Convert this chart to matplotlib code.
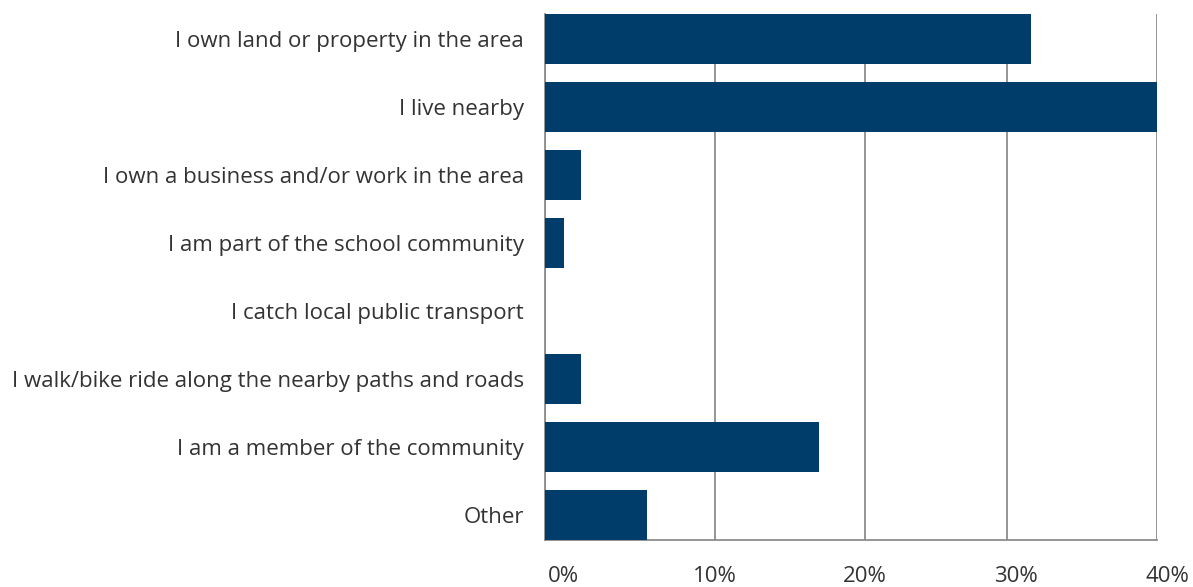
import matplotlib
matplotlib.use("Agg")
import matplotlib.pyplot as plt
import matplotlib.transforms as mtransforms
import numpy as np

categories = [
    "I own land or property in the area",
    "I live nearby",
    "I own a business and/or work in the area",
    "I am part of the school community",
    "I catch local public transport",
    "I walk/bike ride along the nearby paths and roads",
    "I am a member of the community",
    "Other",
]
values = [31.6, 40.0, 2.1, 1.1, 0.0, 2.1, 16.9, 6.0]
xticks = [0, 10, 20, 30, 40]
xtick_labels = ["0%", "10%", "20%", "30%", "40%"]

# the source chart's gridlines are not evenly spaced; reproduce its axis
grid_pos = [0, 170, 320, 462, 612]


def fwd(x):
    return np.interp(x, xticks, grid_pos)


def inv(p):
    return np.interp(p, grid_pos, xticks)


plt.rcParams['font.family'] = ['Open Sans', 'DejaVu Sans']

fig = plt.figure(figsize=(11.93, 5.87), dpi=100)
ax = fig.add_axes([545/1193, 1-540/587, (1157-545)/1193, (540-14)/587])
ax.set_xscale('function', functions=(fwd, inv))

y = list(range(len(categories)))
ax.barh(y, values, height=0.73, color="#003d6a", zorder=3)
ax.set_ylim(len(categories) - 1 + 0.365, -0.365)
ax.set_xlim(0, 40)

ax.set_yticks(y)
ax.set_yticklabels(categories, fontsize=16, color="#333333")
ax.set_xticks(xticks)
ax.set_xticklabels(xtick_labels, fontsize=16, color="#333333")
ax.xaxis.set_minor_locator(matplotlib.ticker.NullLocator())
ax.tick_params(axis='y', length=0, pad=15)
ax.tick_params(axis='x', length=0, pad=18.5)

label_dx = [18, 0, 0, 9, 10]
for lab, dx in zip(ax.get_xticklabels(), label_dx):
    lab.set_transform(lab.get_transform() +
                      mtransforms.ScaledTranslation(dx / 100, 0, fig.dpi_scale_trans))

ax.grid(axis='x', which='major', color="#8c8c8c", linewidth=1.3, zorder=1)
for s in ["top", "right"]:
    ax.spines[s].set_visible(False)
for s in ["left", "bottom"]:
    ax.spines[s].set_color("#8c8c8c")
    ax.spines[s].set_linewidth(1.3)
    ax.spines[s].set_zorder(2)

fig.savefig("out.png", dpi=100, facecolor="white")
